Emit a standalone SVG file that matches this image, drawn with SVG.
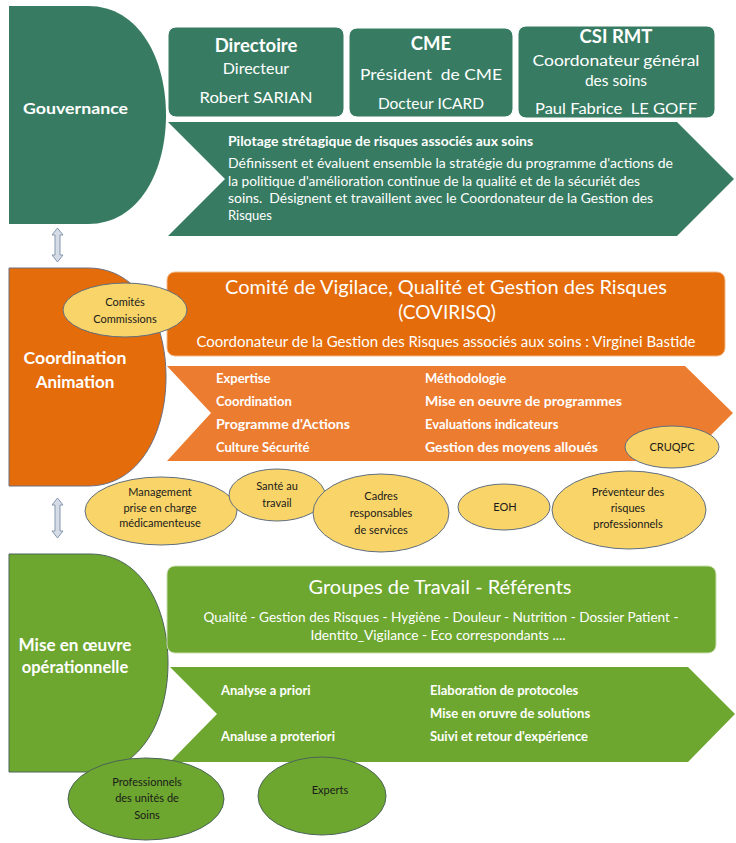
<svg xmlns="http://www.w3.org/2000/svg" width="736" height="843" viewBox="0 0 736 843">
  <defs>
    <style>
      text { font-family: Lato, "Liberation Sans", Arial, sans-serif; }
      .pre { white-space: pre; }
      .w { fill: #ffffff; }
      .b { font-weight: bold; }
      .mid { text-anchor: middle; }
      .k { fill: #1a1a1a; font-size: 11px; text-anchor: middle; }
      .dg { fill: #377C62; }
      .box-dg { fill: #377C62; stroke: #ffffff; stroke-width: 1; }
      .or { fill: #E46C0A; }
      .or2 { fill: #EC7C30; }
      .gr { fill: #6DA72F; }
      .yel { fill: #F9D468; stroke: #5F6E80; stroke-width: 1; }
      .gel { fill: #6DA72F; stroke: #4B6458; stroke-width: 1; }
      .dbl { fill: #D6DCE5; stroke: #8497B0; stroke-width: 1; }
    </style>
  </defs>
  <rect width="736" height="843" fill="#ffffff"/>

  <!-- Gouvernance -->
  <g id="gouvernance">
    <path class="dg" d="M9,6 H88 C140,6 166,60 166,115 C166,170 140,224 88,224 H9 Z"/>
    <text class="w b" x="23" y="114" font-size="15.5" textLength="105" lengthAdjust="spacingAndGlyphs">Gouvernance</text>
  </g>
  <g id="directoire">
    <rect class="box-dg" x="168" y="27" width="176" height="90" rx="8"/>
    <text class="w b mid" x="256" y="52" font-size="18.5">Directoire</text>
    <text class="w mid" x="256" y="74" font-size="16">Directeur</text>
    <text class="w mid" x="256" y="103" font-size="16" textLength="113" lengthAdjust="spacingAndGlyphs">Robert SARIAN</text>
  </g>
  <g id="cme">
    <rect class="box-dg" x="349" y="28" width="164" height="89" rx="8"/>
    <text class="w b mid" x="431" y="50" font-size="18.5">CME</text>
    <text class="w mid pre" x="431" y="80" font-size="15.5" textLength="142" lengthAdjust="spacingAndGlyphs">Président  de CME</text>
    <text class="w mid" x="431" y="109" font-size="15.5">Docteur ICARD</text>
  </g>
  <g id="csi-rmt">
    <rect class="box-dg" x="518" y="26" width="197" height="92" rx="8"/>
    <text class="w b mid" x="616" y="43" font-size="18.5">CSI RMT</text>
    <text class="w mid" x="616" y="66" font-size="15.5" textLength="167" lengthAdjust="spacingAndGlyphs">Coordonateur général</text>
    <text class="w mid" x="616" y="86" font-size="15.5">des soins</text>
    <text class="w mid pre" x="616" y="114" font-size="15.5" textLength="162" lengthAdjust="spacingAndGlyphs">Paul Fabrice  LE GOFF</text>
  </g>
  <g id="pilotage">
    <path class="dg" d="M168,122 H677 L734,179 L677,236 H168 L225,179 Z"/>
    <text class="w b" x="228" y="146" font-size="13" textLength="305" lengthAdjust="spacingAndGlyphs">Pilotage strétagique de risques associés aux soins</text>
    <text class="w" x="228" y="168" font-size="13" textLength="445" lengthAdjust="spacingAndGlyphs">Définissent et évaluent ensemble la stratégie du programme d'actions de</text>
    <text class="w" x="228" y="185.5" font-size="13" textLength="412" lengthAdjust="spacingAndGlyphs">la politique d'amélioration continue de la qualité et de la sécuriét des</text>
    <text class="w pre" x="228" y="203" font-size="13" textLength="425" lengthAdjust="spacingAndGlyphs">soins.  Désignent et travaillent avec le Coordonateur de la Gestion des</text>
    <text class="w" x="228" y="220" font-size="13">Risques</text>
  </g>

  <!-- Coordination -->
  <g id="coordination">
    <path class="or" stroke="#6E6E7E" stroke-width="1" d="M9,268 H88 C140,268 166,322 166,377 C166,432 140,486 88,486 H9 Z"/>
    <text class="w b mid" x="75" y="364" font-size="17" textLength="103" lengthAdjust="spacingAndGlyphs">Coordination</text>
    <text class="w b mid" x="75" y="388" font-size="17">Animation</text>
  </g>
  <g id="covirisq">
    <rect class="or" stroke="#F3B98A" stroke-width="1" x="167" y="272" width="558" height="84" rx="8"/>
    <text class="w mid" x="446" y="294" font-size="19" textLength="442" lengthAdjust="spacingAndGlyphs">Comité de Vigilace, Qualité et Gestion des Risques</text>
    <text class="w mid" x="447" y="319" font-size="19">(COVIRISQ)</text>
    <text class="w mid" x="446" y="347" font-size="14.5" textLength="499" lengthAdjust="spacingAndGlyphs">Coordonateur de la Gestion des Risques associés aux soins : Virginei Bastide</text>
  </g>
  <g id="expertise">
    <path class="or2" d="M167,366 H685 L733,413 L685,461 H167 L211,413 Z"/>
    <text class="w b" x="216" y="383" font-size="13">Expertise</text>
    <text class="w b" x="216" y="406" font-size="13">Coordination</text>
    <text class="w b" x="216" y="429" font-size="13" textLength="134" lengthAdjust="spacingAndGlyphs">Programme d'Actions</text>
    <text class="w b" x="216" y="452" font-size="13">Culture Sécurité</text>
    <text class="w b" x="425" y="383" font-size="13">Méthodologie</text>
    <text class="w b" x="425" y="406" font-size="13" textLength="197" lengthAdjust="spacingAndGlyphs">Mise en oeuvre de programmes</text>
    <text class="w b" x="425" y="429" font-size="13">Evaluations indicateurs</text>
    <text class="w b" x="425" y="452" font-size="13" textLength="173" lengthAdjust="spacingAndGlyphs">Gestion des moyens alloués</text>
  </g>
  <g id="comites">
    <ellipse class="yel" cx="125" cy="310" rx="62" ry="27"/>
    <text class="k" x="125" y="306">Comités</text>
    <text class="k" x="125" y="323">Commissions</text>
  </g>
  <g id="cruqpc">
    <ellipse class="yel" cx="672" cy="447" rx="47" ry="21"/>
    <text class="k" x="672" y="451">CRUQPC</text>
  </g>
  <g id="management">
    <ellipse class="yel" cx="161" cy="511" rx="76" ry="34"/>
    <text class="k" x="160" y="496">Management</text>
    <text class="k" x="160" y="512">prise en charge</text>
    <text class="k" x="160" y="527">médicamenteuse</text>
  </g>
  <g id="sante">
    <ellipse class="yel" cx="277" cy="495" rx="48" ry="26"/>
    <text class="k" x="277" y="490">Santé au</text>
    <text class="k" x="277" y="507">travail</text>
  </g>
  <g id="cadres">
    <ellipse class="yel" cx="381" cy="513" rx="68" ry="39"/>
    <text class="k" x="381" y="500">Cadres</text>
    <text class="k" x="381" y="517">responsables</text>
    <text class="k" x="381" y="534">de services</text>
  </g>
  <g id="eoh">
    <ellipse class="yel" cx="504" cy="507" rx="46" ry="23"/>
    <text class="k" x="505" y="511">EOH</text>
  </g>
  <g id="preventeur">
    <ellipse class="yel" cx="629" cy="510" rx="77" ry="39"/>
    <text class="k" x="628" y="496">Préventeur des</text>
    <text class="k" x="628" y="512">risques</text>
    <text class="k" x="628" y="528">professionnels</text>
  </g>

  <!-- Mise en oeuvre -->
  <g id="mise-en-oeuvre">
    <path class="gr" stroke="#4B6458" stroke-width="1" d="M9,554 H90 C142,554 168,608 168,663 C168,718 142,772 90,772 H9 Z"/>
    <text class="w b mid" x="75" y="651" font-size="16.5" textLength="113" lengthAdjust="spacingAndGlyphs">Mise en œuvre</text>
    <text class="w b mid" x="75" y="673" font-size="16.5">opérationnelle</text>
  </g>
  <g id="groupes">
    <rect class="gr" stroke="#C9DDB0" stroke-width="1" x="167" y="566" width="549" height="87" rx="8"/>
    <text class="w mid" x="440" y="594" font-size="18.5" textLength="263" lengthAdjust="spacingAndGlyphs">Groupes de Travail - Référents</text>
    <text class="w mid" x="441" y="622" font-size="13" textLength="475" lengthAdjust="spacingAndGlyphs">Qualité - Gestion des Risques - Hygiène - Douleur - Nutrition - Dossier Patient -</text>
    <text class="w mid" x="438" y="640" font-size="13" textLength="255" lengthAdjust="spacingAndGlyphs">Identito_Vigilance - Eco correspondants ....</text>
  </g>
  <g id="analyse">
    <path class="gr" d="M170,667 H688 L735,714 L688,762 H170 L217,714 Z"/>
    <text class="w b" x="221" y="695" font-size="13">Analyse a priori</text>
    <text class="w b" x="221" y="741" font-size="13">Analuse a proteriori</text>
    <text class="w b" x="430" y="695" font-size="13">Elaboration de protocoles</text>
    <text class="w b" x="430" y="718" font-size="13">Mise en oruvre de solutions</text>
    <text class="w b" x="430" y="741" font-size="13">Suivi et retour d'expérience</text>
  </g>
  <g id="professionnels">
    <ellipse class="gel" cx="146" cy="799" rx="78" ry="41"/>
    <text class="k" x="147" y="786">Professionnels</text>
    <text class="k" x="147" y="802">des unités de</text>
    <text class="k" x="147" y="819">Soins</text>
  </g>
  <g id="experts">
    <ellipse class="gel" cx="322" cy="796" rx="64" ry="39"/>
    <text class="k" x="330" y="794">Experts</text>
  </g>

  <!-- connectors -->
  <g id="connectors">
    <path class="dbl" d="M57.5,228 L63,235 L60,235 L60,255 L63,255 L57.5,262 L52,255 L55,255 L55,235 L52,235 Z"/>
    <path class="dbl" d="M57.5,498 L63,505 L60,505 L60,531 L63,531 L57.5,538 L52,531 L55,531 L55,505 L52,505 Z"/>
  </g>
</svg>
